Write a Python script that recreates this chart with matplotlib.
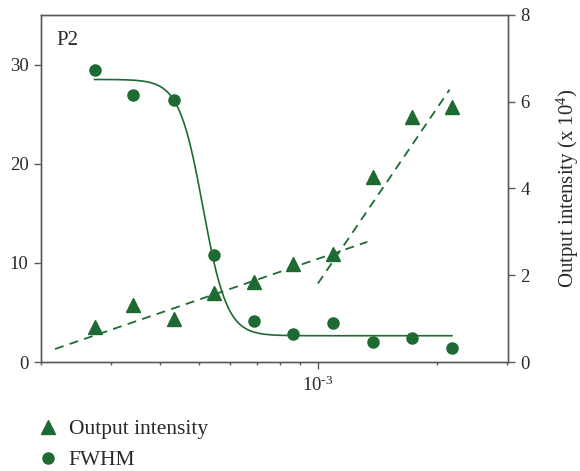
import numpy as np
import matplotlib
matplotlib.use("Agg")
import matplotlib.pyplot as plt
from matplotlib.ticker import LogLocator, NullFormatter, FixedFormatter

plt.rcParams['font.family'] = ['Liberation Serif', 'DejaVu Serif']
plt.rcParams['mathtext.fontset'] = 'custom'
plt.rcParams['mathtext.rm'] = 'Liberation Serif'
plt.rcParams['mathtext.it'] = 'Liberation Serif:italic'

green = '#1d6b32'
grey = '#5a5a5a'
txt = '#2a2a2a'

# x positions (shared by both series)
x_data = [2.73e-4, 3.42e-4, 4.33e-4, 5.46e-4, 6.89e-4, 8.66e-4,
          1.089e-3, 1.375e-3, 1.73e-3, 2.18e-3]
fwhm = [29.5, 26.9, 26.4, 10.8, 4.1, 2.8, 3.9, 2.05, 2.45, 1.4]
intensity = [0.81, 1.31, 1.0, 1.58, 1.84, 2.27, 2.50, 4.26, 5.65, 5.88]

# dashed guide lines (endpoints, intensity axis)
low_x = [2.17e-4, 1.333e-3]
low_y = [0.30, 2.77]
high_x = [1.0e-3, 2.15e-3]
high_y = [1.81, 6.28]

# sigmoid fit of FWHM in log10(x)
fit_top, fit_bottom, fit_x0, fit_k = 28.5, 2.65, -3.290, 33.0

fig = plt.figure(figsize=(5.8, 4.71), dpi=100)
ax = fig.add_axes([0.0707, 0.2314, 0.8053, 0.7368])
ax2 = ax.twinx()

xs = np.logspace(np.log10(x_data[0]), np.log10(x_data[-1]), 300)
fit = fit_bottom + (fit_top - fit_bottom) / (1 + np.exp(fit_k * (np.log10(xs) - fit_x0)))
ax.plot(xs, fit, color=green, lw=1.2)
ax.plot(x_data, fwhm, 'o', color=green, ms=8, zorder=3)

ax2.plot(low_x, low_y, '--', color=green, lw=1.3, dashes=(5, 3.5))
ax2.plot(high_x, high_y, '--', color=green, lw=1.3, dashes=(5, 3.5))
ax2.plot(x_data, intensity, '^', color=green, ms=9.5, zorder=3)

ax.set_xscale('log')
ax.set_xlim(2e-4, 3.02e-3)
ax.set_ylim(0, 35)
ax2.set_ylim(0, 8)
ax.set_yticks([0, 10, 20, 30])
ax2.set_yticks([0, 2, 4, 6, 8])
ax.set_xticks([1e-3])
ax.xaxis.set_major_formatter(FixedFormatter(['10$^{\\text{-3}}$']))
ax.xaxis.set_minor_locator(LogLocator(base=10, subs=np.arange(2, 10), numticks=20))
ax.xaxis.set_minor_formatter(NullFormatter())

for a in (ax, ax2):
    for s in a.spines.values():
        s.set_color(grey)
        s.set_linewidth(1.0)
    a.tick_params(which='both', colors=grey, labelcolor=txt, labelsize=13.5,
                  length=5, width=1.0, direction='out', pad=4)
ax.tick_params(axis='x', which='minor', length=2.5)
ax.tick_params(axis='x', which='major', length=5, pad=5)

ax2.set_ylabel('Output intensity (x 10$^4$)', fontsize=15, color=txt, labelpad=18)
ax.text(0.032, 0.955, 'P2', transform=ax.transAxes, fontsize=15,
        color=txt, va='top', ha='left')

h1, = ax.plot([], [], '^', color=green, ms=10.5)
h2, = ax.plot([], [], 'o', color=green, ms=8)
fig.legend([h1, h2], ['Output intensity', 'FWHM'], loc='upper left',
           bbox_to_anchor=(0.068, 0.110), frameon=False, fontsize=15.5,
           labelcolor=txt, handlelength=0.8, handletextpad=0.55,
           labelspacing=0.5, borderaxespad=0, borderpad=0)

fig.savefig('out.png', dpi=100)
